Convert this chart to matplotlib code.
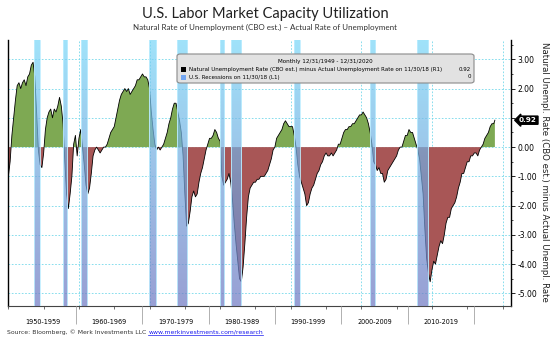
import matplotlib.pyplot as plt
import matplotlib.transforms as mtransforms
from matplotlib.patches import FancyBboxPatch, Rectangle
from matplotlib.lines import Line2D
import numpy as np

# Natural rate of unemployment (CBO est.) minus actual rate, quarterly from 12/31/1949
gap = [
    -1.0, -0.5, 0.4, 1.0,    # 1950
    1.6, 2.1, 2.2, 2.0,      # 1951
    2.2, 2.3, 2.1, 2.4,      # 1952
    2.5, 2.8, 2.9, 2.4,      # 1953
    1.2, -0.1, -0.6, -0.7,   # 1954
    -0.2, 0.6, 1.0, 1.2,     # 1955
    1.3, 1.0, 1.3, 1.2,      # 1956
    1.4, 1.7, 1.4, 0.8,      # 1957
    -0.5, -1.6, -2.1, -1.6,  # 1958
    -1.0, 0.1, 0.4, -0.3,    # 1959
    0.3, 0.6, 0.0, -0.6,     # 1960
    -1.3, -1.6, -1.4, -0.9,  # 1961
    -0.3, -0.1, 0.0, -0.1,   # 1962
    -0.2, -0.1, 0.0, 0.0,    # 1963
    0.1, 0.3, 0.5, 0.6,      # 1964
    0.7, 1.0, 1.3, 1.6,      # 1965
    1.8, 1.9, 2.0, 1.9,      # 1966
    2.0, 1.8, 1.9, 2.0,      # 1967
    2.1, 2.3, 2.3, 2.4,      # 1968
    2.5, 2.4, 2.4, 2.3,      # 1969
    2.0, 1.2, 0.6, 0.1,      # 1970
    -0.1, 0.0, -0.1, 0.0,    # 1971
    0.1, 0.3, 0.5, 0.8,      # 1972
    1.0, 1.3, 1.5, 1.5,      # 1973
    1.2, 0.9, 0.5, -0.3,     # 1974
    -1.6, -2.7, -2.6, -2.2,  # 1975
    -1.7, -1.5, -1.7, -1.6,  # 1976
    -1.2, -0.9, -0.7, -0.4,  # 1977
    -0.1, 0.1, 0.3, 0.3,     # 1978
    0.4, 0.6, 0.5, 0.3,      # 1979
    0.2, -1.0, -1.3, -1.2,   # 1980
    -1.1, -0.9, -1.2, -1.8,  # 1981
    -2.6, -3.3, -3.9, -4.5,  # 1982
    -4.6, -4.1, -3.3, -2.4,  # 1983
    -1.7, -1.4, -1.3, -1.2,  # 1984
    -1.2, -1.1, -1.1, -1.0,  # 1985
    -1.0, -1.0, -0.9, -0.8,  # 1986
    -0.6, -0.4, -0.1, 0.0,   # 1987
    0.3, 0.4, 0.5, 0.6,      # 1988
    0.8, 0.9, 0.8, 0.7,      # 1989
    0.7, 0.7, 0.4, 0.0,      # 1990
    -0.6, -1.0, -1.2, -1.4,  # 1991
    -1.6, -2.0, -1.9, -1.6,  # 1992
    -1.4, -1.3, -1.1, -0.9,  # 1993
    -0.8, -0.6, -0.5, -0.3,  # 1994
    -0.2, -0.3, -0.3, -0.2,  # 1995
    -0.3, -0.2, -0.1, 0.1,   # 1996
    0.1, 0.3, 0.5, 0.6,      # 1997
    0.6, 0.7, 0.7, 0.8,      # 1998
    0.8, 0.9, 1.0, 1.1,      # 1999
    1.1, 1.2, 1.1, 1.0,      # 2000
    0.8, 0.5, 0.1, -0.5,     # 2001
    -0.6, -0.8, -0.7, -0.9,  # 2002
    -0.9, -1.2, -1.1, -0.8,  # 2003
    -0.7, -0.6, -0.5, -0.4,  # 2004
    -0.3, -0.1, 0.0, 0.0,    # 2005
    0.2, 0.4, 0.4, 0.6,      # 2006
    0.5, 0.5, 0.3, 0.1,      # 2007
    -0.1, -0.4, -1.0, -1.6,  # 2008
    -2.8, -3.8, -4.3, -4.6,  # 2009
    -4.2, -3.9, -4.0, -3.7,  # 2010
    -3.4, -3.2, -3.3, -3.0,  # 2011
    -2.6, -2.4, -2.4, -2.1,  # 2012
    -2.0, -1.9, -1.7, -1.4,  # 2013
    -1.2, -0.9, -0.9, -0.7,  # 2014
    -0.5, -0.5, -0.3, -0.3,  # 2015
    -0.2, -0.2, -0.3, -0.1,  # 2016
    0.0, 0.1, 0.3, 0.4,      # 2017
    0.5, 0.7, 0.8, 0.8,      # 2018
]
first_year = 1950
last_date = 2018 + 11 / 12
last_value = 0.92

# NBER recessions (start, end) in decimal years
recessions = [
    (1953.58, 1954.42), (1957.67, 1958.33), (1960.25, 1961.17),
    (1969.92, 1970.92), (1973.83, 1975.25), (1980.0, 1980.58),
    (1981.5, 1982.92), (1990.5, 1991.25), (2001.17, 2001.92),
    (2007.92, 2009.5),
]

decade_labels = ['1950-1959', '1960-1969', '1970-1979', '1980-1989',
                 '1990-1999', '2000-2009', '2010-2019']
decade_starts = [1950, 1960, 1970, 1980, 1990, 2000, 2010]
yticks = [-5, -4, -3, -2, -1, 0, 1, 2, 3]

W, H = 550, 340
fig = plt.figure(figsize=(W / 100, H / 100), dpi=100)
ax = fig.add_axes([8 / W, 34 / H, 503 / W, 266 / H])

x = np.append(first_year + 0.25 * np.arange(len(gap)), last_date)
y = np.append(gap, last_value)
ylo, yhi = -5.43, 3.66

ax.fill_between(x, y, 0, where=y >= 0, interpolate=True, color='#7ea953', lw=0, zorder=1)
ax.fill_between(x, y, 0, where=y <= 0, interpolate=True, color='#a85656', lw=0, zorder=1)
ax.plot(x, y, color='black', lw=0.6, zorder=2)

# recession bands with vertical gradient
top_c = np.array([122, 215, 248]) / 255
bot_c = np.array([112, 122, 195]) / 255
t = np.linspace(0, 1, 64)[:, None]
grad = np.zeros((64, 1, 4))
grad[:, 0, :3] = top_c * (1 - t) + bot_c * t
grad[:, 0, 3] = 0.72
for s, e in recessions:
    ax.imshow(grad, extent=[s, e, ylo, yhi], aspect='auto', origin='upper',
              zorder=3, interpolation='bilinear')
    for edge in (s, e):
        ax.plot([edge, edge], [ylo, yhi], color='#bfeeff', lw=0.6, zorder=3)

ax.set_xlim(1949.95, 2021.2)
ax.set_ylim(ylo, yhi)

# grid
for v in yticks:
    ax.axhline(v, color='#74d8ea', lw=0.6, ls=(0, (2, 2)), zorder=0.5)
for d in range(1960, 2021, 10):
    ax.axvline(d, color='#74d8ea', lw=0.6, ls=(0, (2, 2)), zorder=0.5)

# y axis on the right; the 1.00 label sits under the last-value tag
ax.yaxis.tick_right()
ax.set_yticks(yticks)
ax.set_yticklabels(['' if v == 1 else f'{v:.2f}' for v in yticks])
ax.set_yticks(np.arange(-5, 3.6, 0.5), minor=True)
ax.tick_params(axis='y', which='major', length=3, width=0.6, labelsize=5.5, pad=1.5)
ax.tick_params(axis='y', which='minor', length=1.5, width=0.5)
ax.set_xticks(range(1950, 2021, 5))
ax.set_xticklabels([])
ax.tick_params(axis='x', length=2.2, width=0.6, color='#555555')
ax.spines['top'].set_visible(False)
for sp in ('left', 'right'):
    ax.spines[sp].set_linewidth(1.0)
ax.spines['bottom'].set_color('#444444')
ax.spines['bottom'].set_linewidth(0.8)

# decade label row
ax2 = ax.twiny()
ax2.set_xlim(1949.74, 2025.6)
ax2.xaxis.set_ticks_position('bottom')
for sp in ax2.spines.values():
    sp.set_visible(False)
ax2.set_xticks(decade_starts[1:] + [2020])
ax2.set_xticklabels([])
ax2.set_xticks([d + 5 for d in decade_starts], minor=True)
ax2.set_xticklabels(decade_labels, minor=True)
ax2.tick_params(which='major', length=13, width=0.7, color='#b0b0b0')
ax2.tick_params(which='minor', length=0, pad=9, labelsize=4.7)

# last value tag
tr = mtransforms.blended_transform_factory(ax.transAxes, ax.transData)
ax.text(1.016, last_value, f'{last_value:.2f}', transform=tr, ha='left', va='center',
        fontsize=5.2, color='white', fontweight='bold', zorder=10,
        bbox=dict(boxstyle='larrow,pad=0.15', fc='black', ec='black'), clip_on=False)

# titles
fig.text(265 / W, 1 - 14 / H, 'U.S. Labor Market Capacity Utilization',
         family='Lato', fontsize=10.5, ha='center', va='center', color='#222222')
fig.text(265 / W, 1 - 27 / H,
         'Natural Rate of Unemployment (CBO est.) \u2013 Actual Rate of Unemployment',
         family='Lato', fontsize=5.8, ha='center', va='center', color='#333333')
fig.text(544 / W, 1 - 172 / H,
         'Natural Unempl. Rate (CBO est.) minus Actual Unempl. Rate',
         rotation=270, ha='center', va='center', fontsize=6.2, color='#222222')

# legend box
fig.patches.append(FancyBboxPatch((177 / W, 1 - 83 / H), 297 / W, 29 / H,
                                  boxstyle='round,pad=0,rounding_size=0.006',
                                  fc='#e2e2e2', ec='#8a8a8a', lw=0.8,
                                  transform=fig.transFigure, zorder=5))
fig.text(325 / W, 1 - 62 / H, 'Monthly 12/31/1949 - 12/31/2020', fontsize=4.1,
         ha='center', va='center', zorder=6)
fig.patches.append(Rectangle((181 / W, 1 - 72 / H), 5 / W, 5 / H, fc='black',
                             transform=fig.transFigure, zorder=6))
fig.patches.append(Rectangle((181 / W, 1 - 79.5 / H), 5 / W, 5 / H, fc='#72a6f2',
                             transform=fig.transFigure, zorder=6))
fig.text(189 / W, 1 - 69.5 / H,
         'Natural Unemployment Rate (CBO est.) minus Actual Unemployment Rate on 11/30/18 (R1)',
         fontsize=4.0, ha='left', va='center', zorder=6)
fig.text(471 / W, 1 - 69.5 / H, f'{last_value:.2f}', fontsize=4.0, ha='right', va='center', zorder=6)
fig.text(189 / W, 1 - 77 / H, 'U.S. Recessions on 11/30/18 (L1)',
         fontsize=4.0, ha='left', va='center', zorder=6)
fig.text(471 / W, 1 - 77 / H, '0', fontsize=4.0, ha='right', va='center', zorder=6)

# source
src = fig.text(7 / W, 1 - 332 / H, 'Source: Bloomberg, \u00a9 Merk Investments LLC ',
               fontsize=4.4, ha='left', va='center', color='#333333')
fig.canvas.draw()
bb = src.get_window_extent()
link = fig.text(bb.x1 / W, 1 - 332 / H, 'www.merkinvestments.com/research',
                fontsize=4.4, ha='left', va='center', color='#1a1aee')
fig.canvas.draw()
lb = link.get_window_extent()
fig.lines.append(Line2D([lb.x0 / W, lb.x1 / W], [(lb.y0 - 0.5) / H] * 2, lw=0.5,
                        color='#1a1aee', transform=fig.transFigure))

fig.savefig('out.png', dpi=100)
